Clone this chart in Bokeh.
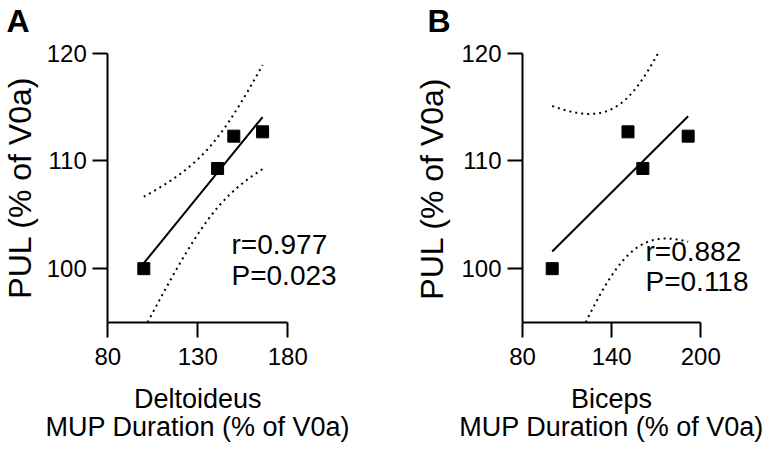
import numpy as np
from bokeh.plotting import figure
from bokeh.layouts import row
from bokeh.models import Range1d, FixedTicker, Label
from bokeh.embed import file_html
from bokeh.resources import INLINE

# ---- data ----
pul_a = [100.0, 109.3, 112.3, 112.7]           # PUL (% of V0a)
delt_mup = [100.0, 141.0, 150.0, 166.0]        # Deltoideus MUP duration (% of V0a)
pul_b = [100.0, 112.7, 109.3, 112.3]           # PUL (% of V0a)
bic_mup = [100.0, 151.0, 161.0, 191.5]         # Biceps MUP duration (% of V0a)

xticks_a = [80, 130, 180]
xticks_b = [80, 140, 200]
yticks = [100, 110, 120]
stats_a = ["r=0.977", "P=0.023"]
stats_b = ["r=0.882", "P=0.118"]

T_DF2 = 4.303  # t(0.975, df=2): 95% confidence band for n=4
FONT = "Liberation Sans"
H = 448
BASE_FIX = 0.39  # empirical shift of the rendered alphabetic baseline (em)


def fit(xs, ys, ylo, yhi):
    x = np.asarray(xs, float)
    y = np.asarray(ys, float)
    n = len(x)
    mx, my = x.mean(), y.mean()
    sxx = ((x - mx) ** 2).sum()
    slope = ((x - mx) * (y - my)).sum() / sxx
    icpt = my - slope * mx
    s = np.sqrt(((y - icpt - slope * x) ** 2).sum() / (n - 2))
    xx = np.linspace(x.min(), x.max(), 500)
    yy = icpt + slope * xx
    se = s * np.sqrt(1.0 / n + (xx - mx) ** 2 / sxx)
    lo = yy - T_DF2 * se
    hi = yy + T_DF2 * se
    lo = np.where((lo < ylo) | (lo > yhi), np.nan, lo)
    hi = np.where((hi < ylo) | (hi > yhi), np.nan, hi)
    return xx, yy, lo, hi


def panel(letter, xs, ys, xlim, xt, xname, stats, W, offx, X0, sx,
          letter_x, ytitle_x, ytitle_y, xtitle_cx, stat_x, stat_y):
    # pixel (page) <-> data mapping; the whole canvas is the frame
    Y0 = 322.0
    sy = (322 - 52.7) / 25.0
    x0, y0 = xlim[0], 95.0
    fx = lambda px: x0 + (px - offx - X0) / sx
    fy = lambda py: y0 + (Y0 - py) / sy

    p = figure(output_backend="svg", toolbar_location=None,
               width=W, height=H, min_border=0,
               min_border_left=0, min_border_right=0,
               min_border_top=0, min_border_bottom=0,
               x_range=Range1d(x0 - X0 / sx, x0 + (W - X0) / sx),
               y_range=Range1d(y0 - (H - Y0) / sy, y0 + Y0 / sy),
               background_fill_color="white", border_fill_color="white")
    p.outline_line_color = None
    p.grid.visible = False

    xx, yy, lo, hi = fit(xs, ys, 95.0, 120.0)
    p.line(xx, lo, line_color="black", line_width=2, line_dash="2 4")
    p.line(xx, hi, line_color="black", line_width=2, line_dash="2 4")
    p.line([xx[0], xx[-1]], [yy[0], yy[-1]], line_color="black", line_width=2)
    p.scatter(xs, ys, marker="square", size=12, color="black")

    xa, ya = p.xaxis[0], p.yaxis[0]
    xa.fixed_location = 95.0
    ya.fixed_location = x0
    xa.bounds = tuple(xlim)
    ya.bounds = (95, 120)
    for ax in (xa, ya):
        ax.axis_line_width = 2
        ax.axis_line_color = "black"
        ax.major_tick_line_width = 2
        ax.major_tick_line_color = "black"
        ax.major_tick_out = 15
        ax.major_tick_in = 0
        ax.minor_tick_line_color = None
        ax.major_label_text_font = FONT
        ax.major_label_text_font_size = "24px"
        ax.major_label_text_color = "black"
    xa.ticker = FixedTicker(ticks=xt)
    ya.ticker = FixedTicker(ticks=yticks)
    xa.major_label_standoff = 10
    ya.major_label_standoff = 6

    def lab(px, py, text, size, rotated=False, **kw):
        fs = float(size.replace("px", ""))
        if rotated:
            px = px - BASE_FIX * fs
        else:
            py = py - BASE_FIX * fs
        p.add_layout(Label(x=fx(px), y=fy(py), text=text, text_font=FONT,
                           text_font_size=size, text_color="black",
                           text_baseline="alphabetic", **kw))

    # panel letter
    lab(letter_x, 33, letter, "32px", text_font_style="bold",
        text_align="left")
    # y title
    lab(ytitle_x, ytitle_y, "PUL (% of V0a)", "32px", rotated=True,
        angle=np.pi / 2, text_align="center")
    # x title (two lines)
    lab(xtitle_cx, 409, xname, "27px", text_align="center")
    lab(xtitle_cx, 436.7, "MUP Duration (% of V0a)", "27px",
        text_align="center")
    # statistics
    for txt, py in zip(stats, stat_y):
        lab(stat_x, py, txt, "28px", text_align="left")
    return p


pa = panel("A", delt_mup, pul_a, (80, 180), xticks_a, "Deltoideus", stats_a,
           W=387, offx=0, X0=107.3, sx=(287.3 - 107.3) / 100.0,
           letter_x=6, ytitle_x=31.5, ytitle_y=187, xtitle_cx=197.3,
           stat_x=231, stat_y=(255, 286))
pb = panel("B", bic_mup, pul_b, (80, 200), xticks_b, "Biceps", stats_b,
           W=385, offx=387, X0=522 - 387, sx=(700.3 - 522) / 120.0,
           letter_x=427, ytitle_x=443.5, ytitle_y=188, xtitle_cx=611,
           stat_x=645, stat_y=(261.7, 291.7))

layout = row(pa, pb)
open("out.html", "w").write(file_html(layout, INLINE))
